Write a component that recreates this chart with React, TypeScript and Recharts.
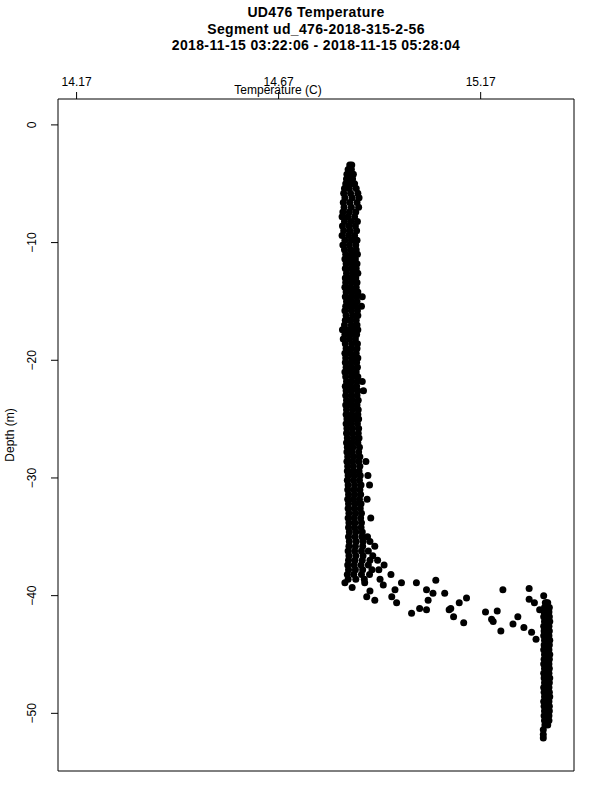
import { ScatterChart, Scatter, XAxis, YAxis, ReferenceArea, Label } from 'recharts';

// temperature profile
// rows are [depth, temp, temp, ...]
const upperColumn: number[][] = [
  [-3.4, 14.846, 14.851],
  [-3.8, 14.842, 14.850],
  [-4.2, 14.839, 14.848, 14.855],
  [-4.6, 14.838, 14.846, 14.853],
  [-5.0, 14.836, 14.849, 14.858],
  [-5.4, 14.833, 14.845, 14.862],
  [-5.8, 14.831, 14.848, 14.866],
  [-6.2, 14.834, 14.852, 14.869],
  [-6.6, 14.830, 14.846, 14.864],
  [-7.0, 14.832, 14.850, 14.868],
  [-7.4, 14.829, 14.845, 14.861],
  [-7.8, 14.827, 14.841, 14.858],
  [-8.2, 14.833, 14.849, 14.865],
  [-8.6, 14.828, 14.844, 14.860],
  [-9.0, 14.831, 14.847, 14.863],
  [-9.4, 14.827, 14.843, 14.858],
  [-9.8, 14.834, 14.850, 14.864],
  [-10.2, 14.829, 14.845, 14.861],
  [-10.6, 14.833, 14.848, 14.862],
  [-11.0, 14.836, 14.851, 14.865],
  [-11.4, 14.834, 14.847, 14.860],
  [-11.8, 14.837, 14.852, 14.864],
  [-12.2, 14.835, 14.849, 14.862],
  [-12.6, 14.838, 14.853, 14.866],
  [-13.0, 14.835, 14.848, 14.861],
  [-13.4, 14.836, 14.851, 14.864],
  [-13.8, 14.834, 14.847, 14.862],
  [-14.2, 14.837, 14.852, 14.866],
  [-14.6, 14.835, 14.849, 14.863, 14.877],
  [-15.0, 14.838, 14.851, 14.864],
  [-15.4, 14.836, 14.848, 14.861, 14.875],
  [-15.8, 14.834, 14.850, 14.865],
  [-16.2, 14.837, 14.853, 14.866],
  [-16.6, 14.835, 14.848, 14.862],
  [-17.0, 14.833, 14.850, 14.864],
  [-17.4, 14.828, 14.842, 14.856, 14.866],
  [-17.8, 14.834, 14.849, 14.863],
  [-18.2, 14.830, 14.845, 14.860],
  [-18.6, 14.835, 14.851, 14.865],
  [-19.0, 14.837, 14.850, 14.864],
  [-19.4, 14.834, 14.848, 14.862],
  [-19.8, 14.836, 14.852, 14.866],
  [-20.2, 14.835, 14.849, 14.863],
  [-20.6, 14.837, 14.851, 14.865],
  [-21.0, 14.834, 14.848, 14.862],
  [-21.4, 14.836, 14.852, 14.866],
  [-21.8, 14.838, 14.850, 14.864, 14.877],
  [-22.2, 14.835, 14.849, 14.863],
  [-22.6, 14.837, 14.851, 14.866, 14.880],
  [-23.0, 14.836, 14.850, 14.864],
  [-23.4, 14.838, 14.852, 14.867],
  [-23.8, 14.836, 14.849, 14.864],
  [-24.2, 14.838, 14.853, 14.867],
  [-24.6, 14.837, 14.851, 14.866],
  [-25.0, 14.839, 14.854, 14.868],
  [-25.4, 14.837, 14.850, 14.865],
  [-25.8, 14.839, 14.853, 14.868],
  [-26.2, 14.838, 14.852, 14.867],
  [-26.6, 14.840, 14.855, 14.869],
  [-27.0, 14.838, 14.851, 14.866],
  [-27.4, 14.840, 14.854, 14.870],
  [-27.8, 14.839, 14.852, 14.868],
  [-28.2, 14.841, 14.856, 14.871],
  [-28.6, 14.839, 14.853, 14.868, 14.886],
  [-29.0, 14.841, 14.855, 14.871],
  [-29.4, 14.840, 14.854, 14.869],
  [-29.8, 14.842, 14.857, 14.872, 14.891],
  [-30.2, 14.840, 14.855, 14.870],
  [-30.6, 14.842, 14.858, 14.874, 14.895],
  [-31.0, 14.841, 14.856, 14.871],
  [-31.4, 14.843, 14.858, 14.873],
  [-31.8, 14.841, 14.855, 14.870, 14.889],
  [-32.2, 14.843, 14.859, 14.874],
  [-32.6, 14.842, 14.857, 14.872],
  [-33.0, 14.844, 14.860, 14.875],
  [-33.4, 14.842, 14.857, 14.873, 14.898],
  [-33.8, 14.844, 14.859, 14.875],
  [-34.2, 14.843, 14.858, 14.874],
  [-34.6, 14.845, 14.861, 14.877],
  [-35.0, 14.843, 14.859, 14.876, 14.890],
  [-35.4, 14.845, 14.862, 14.879, 14.896],
  [-35.8, 14.844, 14.860, 14.878, 14.908],
  [-36.2, 14.842, 14.858, 14.875, 14.892],
  [-36.6, 14.844, 14.861, 14.879, 14.903],
  [-37.0, 14.843, 14.859, 14.877, 14.896, 14.915],
  [-37.4, 14.841, 14.857, 14.874, 14.892, 14.931],
  [-37.8, 14.843, 14.860, 14.878, 14.901, 14.918],
  [-38.2, 14.840, 14.856, 14.875, 14.895, 14.948],
  [-38.6, 14.842, 14.861, 14.882, 14.921],
];

// thermocline, [temp, depth]
const transition: number[][] = [
  [14.834, -38.9], [14.852, -39.3], [14.883, -38.9], [14.896, -39.6],
  [14.888, -40.1], [14.908, -40.4], [14.929, -39.1], [14.958, -39.5],
  [14.962, -40.6], [14.950, -40.1], [14.974, -38.9], [15.011, -38.9],
  [15.059, -38.7], [15.036, -39.5], [15.052, -39.8], [15.081, -39.8],
  [15.040, -40.4], [15.019, -41.1], [15.036, -41.2], [14.999, -41.5],
  [15.092, -41.2], [15.117, -40.6], [15.135, -40.2], [15.096, -41.1],
  [15.103, -41.8], [15.128, -42.3], [15.225, -39.5], [15.290, -39.4],
  [15.182, -41.4], [15.211, -41.3], [15.197, -42.0], [15.201, -42.2],
  [15.220, -43.0], [15.262, -41.8], [15.250, -42.4], [15.277, -42.7],
  [15.296, -43.1], [15.307, -43.7], [15.290, -40.3], [15.303, -40.6],
  [15.326, -40.0], [15.333, -40.6], [15.316, -41.2],
];

const lowerColumn: number[][] = [
  [-40.6, 15.330, 15.336],
  [-41.0, 15.328, 15.335, 15.340],
  [-41.4, 15.327, 15.333, 15.339],
  [-41.8, 15.326, 15.334, 15.340],
  [-42.2, 15.328, 15.335, 15.341],
  [-42.6, 15.326, 15.332, 15.339],
  [-43.0, 15.327, 15.334, 15.340],
  [-43.4, 15.326, 15.333, 15.339],
  [-43.8, 15.328, 15.335, 15.341],
  [-44.2, 15.327, 15.333, 15.340],
  [-44.6, 15.326, 15.334, 15.339],
  [-45.0, 15.328, 15.335, 15.341],
  [-45.4, 15.327, 15.333, 15.340],
  [-45.8, 15.326, 15.334, 15.339],
  [-46.2, 15.328, 15.335, 15.340],
  [-46.6, 15.326, 15.333, 15.339],
  [-47.0, 15.327, 15.334, 15.341],
  [-47.4, 15.328, 15.335, 15.340],
  [-47.8, 15.326, 15.333, 15.339],
  [-48.2, 15.327, 15.334, 15.340],
  [-48.6, 15.328, 15.335, 15.341],
  [-49.0, 15.326, 15.333, 15.339],
  [-49.4, 15.327, 15.334, 15.340],
  [-49.8, 15.328, 15.335, 15.340],
  [-50.2, 15.327, 15.333, 15.339],
  [-50.6, 15.328, 15.334, 15.339],
  [-51.0, 15.329, 15.336],
  [-51.4, 15.325],
  [-51.8, 15.325],
  [-52.1, 15.325],
];

const xTicks = [14.17, 14.67, 15.17];
const yTicks = [0, -10, -20, -30, -40, -50];
const xDomain = [14.124, 15.401];
const yDomain = [-54.9, 2.2];

const fromRows = (rows: number[][]) =>
  rows.flatMap(([d, ...temps]) => temps.map((t) => ({ t, d })));

const points = [
  ...fromRows(upperColumn),
  ...transition.map(([t, d]) => ({ t, d })),
  ...fromRows(lowerColumn),
];

const font = '"Liberation Sans", Arial, Helvetica, sans-serif';

const Dot = (props: any) => <circle cx={props.cx} cy={props.cy} r={3.5} fill="#000" />;

const XTick = (props: any) => (
  <text x={props.x} y={85.5} textAnchor="middle" fontSize={12} fontFamily={font} fill="#000">
    {props.payload.value}
  </text>
);

const YTick = (props: any) => {
  const y = props.y;
  return (
    <text x={36} y={y} transform={`rotate(-90 36 ${y})`} textAnchor="middle" fontSize={12} fontFamily={font} fill="#000">
      {String(props.payload.value).replace('-', '\u2212')}
    </text>
  );
};

const titleStyle = {
  position: 'absolute' as const,
  left: 58,
  width: 516,
  textAlign: 'center' as const,
  fontWeight: 'bold' as const,
  fontSize: 14,
  letterSpacing: 0.35,
  lineHeight: '16px',
  fontFamily: font,
  color: '#000',
};

export default function App() {
  return (
    <div style={{ position: 'absolute', left: 0, top: 0, width: 600, height: 800, background: '#fff' }}>
      <div style={{ ...titleStyle, top: 4 }}>UD476 Temperature</div>
      <div style={{ ...titleStyle, top: 21 }}>Segment ud_476-2018-315-2-56</div>
      <div style={{ ...titleStyle, top: 37 }}>2018-11-15 03:22:06 - 2018-11-15 05:28:04</div>
      <ScatterChart width={600} height={800} margin={{ top: 0, right: 26, bottom: 29, left: 0 }}>
        <XAxis
          type="number"
          dataKey="t"
          orientation="top"
          domain={xDomain}
          ticks={xTicks}
          height={99}
          axisLine={false}
          tickSize={7}
          tickLine={{ stroke: '#000' }}
          tick={<XTick />}
        >
          <Label
            content={() => (
              <text x={278} y={94} textAnchor="middle" fontSize={12} fontFamily={font} fill="#000">
                Temperature (C)
              </text>
            )}
          />
        </XAxis>
        <YAxis
          type="number"
          dataKey="d"
          domain={yDomain}
          ticks={yTicks}
          width={58}
          axisLine={false}
          tickSize={7}
          tickLine={{ stroke: '#000' }}
          tick={<YTick />}
        >
          <Label
            content={() => (
              <text x={14} y={435} transform="rotate(-90 14 435)" textAnchor="middle" fontSize={12} fontFamily={font} fill="#000">
                Depth (m)
              </text>
            )}
          />
        </YAxis>
        <ReferenceArea
          x1={xDomain[0]}
          x2={xDomain[1]}
          y1={yDomain[0]}
          y2={yDomain[1]}
          fill="none"
          stroke="#000"
          strokeWidth={1}
          fillOpacity={0}
        />
        <Scatter data={points} shape={<Dot />} isAnimationActive={false} />
      </ScatterChart>
    </div>
  );
}
